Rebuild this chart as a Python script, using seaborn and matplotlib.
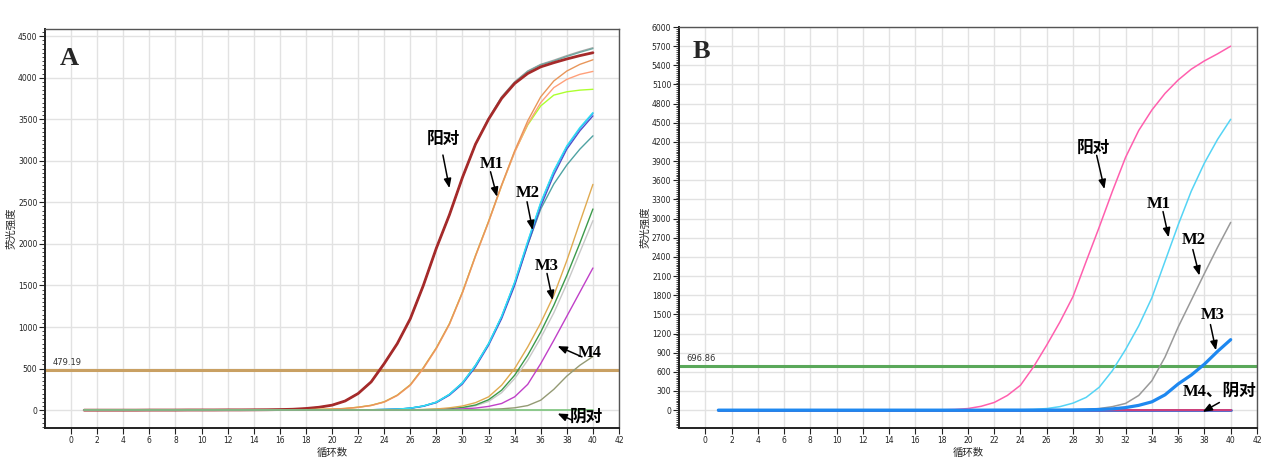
import numpy as np
import pandas as pd
import matplotlib
matplotlib.use("Agg")
import matplotlib.pyplot as plt
import seaborn as sns
from matplotlib.ticker import MultipleLocator

sns.set_style("white")
plt.rcParams["font.family"] = ["DejaVu Sans", "Noto Sans CJK SC"]

cycles = list(range(1, 41))

# ---------------- panel A (fluorescence per cycle) ----------------
a_pos_red = [0, 0, 0, 0, 0, 1, 1, 1, 2, 2, 2, 3, 3, 4, 5, 7, 11, 20, 35, 60,
             110, 200, 340, 560, 800, 1100, 1500, 1950, 2350, 2800,
             3200, 3500, 3750, 3930, 4050, 4130, 4180, 4225, 4265, 4300]
a_pos_gray = [0, 0, 0, 0, 0, 1, 1, 1, 2, 2, 2, 3, 3, 4, 5, 7, 11, 20, 35, 60,
              110, 200, 340, 560, 800, 1100, 1500, 1950, 2350, 2800,
              3200, 3510, 3770, 3950, 4080, 4160, 4210, 4265, 4315, 4360]
a_pos_teal = [0, 0, 0, 0, 0, 1, 1, 1, 2, 2, 2, 3, 3, 4, 5, 7, 11, 20, 35, 60,
              110, 200, 340, 560, 800, 1100, 1500, 1950, 2350, 2800,
              3200, 3505, 3765, 3945, 4075, 4155, 4200, 4255, 4305, 4350]
a_m1_orange = [0, 0, 0, 0, 0, 0, 0, 0, 0, 0, 1, 1, 1, 1, 2, 2, 3, 5, 8, 12,
               20, 35, 58, 100, 180, 305, 510, 750, 1040, 1420,
               1860, 2270, 2710, 3120, 3480, 3770, 3960, 4080, 4160, 4215]
a_m1_salmon = [0, 0, 0, 0, 0, 0, 0, 0, 0, 0, 1, 1, 1, 1, 2, 2, 3, 5, 8, 12,
               19, 33, 55, 96, 175, 298, 500, 740, 1030, 1410,
               1850, 2260, 2700, 3100, 3440, 3700, 3880, 3980, 4040, 4075]
a_m1_green = [0, 0, 0, 0, 0, 0, 0, 0, 0, 0, 1, 1, 1, 1, 2, 2, 3, 5, 8, 12,
              20, 35, 58, 100, 180, 305, 510, 750, 1040, 1420,
              1860, 2270, 2700, 3110, 3430, 3660, 3790, 3830, 3850, 3860]
a_m2_cyan = [0, 0, 0, 0, 0, 0, 0, 0, 0, 0, 0, 0, 0, 0, 1, 1, 1, 1, 2, 2,
             2, 3, 5, 8, 12, 24, 50, 96, 190, 330,
             540, 800, 1130, 1540, 2030, 2500, 2880, 3180, 3400, 3580]
a_m2_blue = [0, 0, 0, 0, 0, 0, 0, 0, 0, 0, 0, 0, 0, 0, 1, 1, 1, 1, 2, 2,
             2, 3, 5, 8, 12, 24, 50, 96, 188, 328,
             535, 795, 1125, 1535, 2020, 2490, 2870, 3170, 3390, 3570]
a_m2_slate = [0, 0, 0, 0, 0, 0, 0, 0, 0, 0, 0, 0, 0, 0, 1, 1, 1, 1, 2, 2,
              2, 3, 5, 7, 11, 22, 46, 90, 180, 315,
              520, 780, 1100, 1500, 1990, 2450, 2830, 3140, 3360, 3540]
a_m2_teal = [0, 0, 0, 0, 0, 0, 0, 0, 0, 0, 0, 0, 0, 0, 1, 1, 1, 1, 2, 2,
             2, 3, 5, 8, 12, 24, 50, 96, 190, 330,
             540, 800, 1120, 1520, 1990, 2420, 2720, 2950, 3140, 3300]
a_m3_tan = [0, 0, 0, 0, 0, 0, 0, 0, 0, 0, 0, 0, 0, 0, 0, 0, 0, 1, 1, 1,
            1, 2, 2, 2, 3, 5, 8, 14, 28, 50,
            90, 160, 300, 500, 760, 1050, 1380, 1800, 2260, 2716]
a_m3_green = [0, 0, 0, 0, 0, 0, 0, 0, 0, 0, 0, 0, 0, 0, 0, 0, 0, 1, 1, 1,
              1, 1, 2, 2, 3, 4, 6, 10, 18, 32,
              62, 125, 240, 420, 660, 940, 1260, 1620, 2010, 2420]
a_m3_gray = [0, 0, 0, 0, 0, 0, 0, 0, 0, 0, 0, 0, 0, 0, 0, 0, 0, 1, 1, 1,
             1, 1, 1, 2, 2, 3, 5, 8, 14, 26,
             52, 105, 210, 380, 600, 870, 1170, 1520, 1900, 2280]
a_m4_magenta = [0, 0, 0, 0, 0, 0, 0, 0, 0, 0, 0, 0, 0, 0, 0, 0, 0, 0, 0, 1,
                1, 1, 1, 2, 2, 3, 4, 5, 8, 15,
                25, 45, 80, 160, 310, 560, 840, 1130, 1420, 1710]
a_m4_olive = [0, 0, 0, 0, 0, 0, 0, 0, 0, 0, 0, 0, 0, 0, 0, 0, 0, 0, 0, 0,
              0, 1, 1, 1, 1, 1, 2, 2, 3, 4,
              6, 10, 16, 28, 55, 120, 250, 410, 540, 645]
a_neg = [0] * 40

a_series = [
    ("阳对-1", a_pos_gray, "#a8a8a8", 1.0),
    ("阳对-2", a_pos_teal, "#6fa8a0", 1.0),
    ("阳对-3", a_pos_red, "#a52a2a", 2.0),
    ("M1-1", a_m1_green, "#adff2f", 1.0),
    ("M1-2", a_m1_salmon, "#ffa07a", 1.0),
    ("M1-3", a_m1_orange, "#e8965a", 1.0),
    ("M2-1", a_m2_teal, "#4fa3a3", 1.0),
    ("M2-2", a_m2_slate, "#5050c8", 1.0),
    ("M2-3", a_m2_blue, "#1e90ff", 1.0),
    ("M2-4", a_m2_cyan, "#33e0f0", 1.0),
    ("M3-1", a_m3_gray, "#c8c8c8", 1.0),
    ("M3-2", a_m3_green, "#3c9a4a", 1.0),
    ("M3-3", a_m3_tan, "#e0aa50", 1.0),
    ("M4-1", a_m4_olive, "#949a74", 1.0),
    ("M4-2", a_m4_magenta, "#c040c8", 1.0),
    ("阴对", a_neg, "#7cc47c", 1.2),
]
a_threshold = 479.19

# ---------------- panel B ----------------
b_pos = [0, 0, 0, 0, 0, 0, 0, 0, 0, 0, 0, 1, 1, 1, 1, 2, 3, 5, 10, 25,
         60, 120, 230, 390, 680, 1020, 1380, 1780, 2330, 2870,
         3430, 3960, 4380, 4700, 4960, 5170, 5340, 5470, 5580, 5700]
b_m1 = [0, 0, 0, 0, 0, 0, 0, 0, 0, 0, 0, 0, 0, 0, 0, 0, 1, 1, 1, 1,
        2, 2, 3, 5, 12, 25, 55, 110, 200, 360,
        620, 950, 1320, 1760, 2330, 2900, 3430, 3870, 4240, 4555]
b_m2 = [0, 0, 0, 0, 0, 0, 0, 0, 0, 0, 0, 0, 0, 0, 0, 0, 0, 0, 0, 1,
        1, 1, 1, 2, 2, 2, 3, 6, 10, 25,
        55, 105, 230, 460, 830, 1300, 1720, 2140, 2550, 2940]
b_m3 = [0, 0, 0, 0, 0, 0, 0, 0, 0, 0, 0, 0, 0, 0, 0, 0, 0, 0, 0, 0,
        0, 1, 1, 1, 1, 2, 2, 3, 6, 10,
        20, 40, 75, 130, 240, 410, 550, 720, 920, 1104]
b_neg = [0] * 40

b_series = [
    ("M4", b_neg, "#4b5cc4", 2.0),
    ("阴对", b_neg, "#d0407a", 1.4),
    ("阳对", b_pos, "#ff5fae", 1.1),
    ("M1", b_m1, "#55d4f5", 1.1),
    ("M2", b_m2, "#999999", 1.1),
    ("M3", b_m3, "#1e88f0", 2.3),
]
b_threshold = 696.86

# label text, text position, arrow start, arrow tip
a_notes = [
    ("阳对", (28.57, 3249), (28.5, 3069), (29.0, 2671)),
    ("M1", (32.21, 2960), (32.15, 2868), (32.65, 2567)),
    ("M2", (34.97, 2617), (34.95, 2507), (35.38, 2166)),
    ("M3", (36.46, 1733), (36.48, 1645), (36.91, 1324)),
    ("M4", (39.72, 692), (39.16, 641), (37.29, 770)),
    ("阴对", (39.49, -90), (38.40, -120), (37.29, -40)),
]
b_notes = [
    ("阳对", (29.55, 4087), (29.80, 3990), (30.39, 3462)),
    ("M1", (34.51, 3228), (34.85, 3110), (35.28, 2706)),
    ("M2", (37.16, 2667), (37.12, 2515), (37.62, 2108)),
    ("M3", (38.63, 1483), (38.46, 1340), (38.88, 937)),
    ("M4、阴对", (39.16, 290), (39.14, 120), (37.87, -27)),
]

note_font = ["Liberation Serif", "Noto Sans CJK SC"]


def draw_panel(ax, series, threshold, thr_color, thr_text_y, ylim, ystep, yminor,
               notes, letter, letter_xy):
    for name, vals, color, lw in series:
        df = pd.DataFrame({"cycle": cycles, "value": vals})
        sns.lineplot(data=df, x="cycle", y="value", ax=ax, color=color, lw=lw)
    ax.axhline(threshold, color=thr_color, lw=2.2, zorder=1)
    ax.text(-1.45, thr_text_y, f"{threshold:.2f}", fontsize=6, color="#333333",
            ha="left", va="bottom")

    ax.set_xlim(-2, 42)
    ax.set_ylim(*ylim)
    ax.set_xticks(range(0, 43, 2))
    ax.set_yticks(np.arange(0, ylim[1] + 1, ystep))
    ax.yaxis.set_minor_locator(MultipleLocator(yminor))
    ax.tick_params(axis="both", which="major", direction="out", length=4, width=0.8,
                   labelsize=5.5, colors="#222222", pad=1.5)
    ax.tick_params(axis="y", which="minor", direction="out", length=2, width=0.6,
                   left=True)
    ax.tick_params(axis="x", which="major", bottom=True)
    ax.tick_params(axis="y", which="major", left=True)
    ax.grid(True, which="major", color="#e2e2e2", lw=1.0)
    ax.set_axisbelow(True)
    for side in ["left", "bottom"]:
        ax.spines[side].set_color("#222222")
        ax.spines[side].set_linewidth(1.4)
    for side in ["top", "right"]:
        ax.spines[side].set_color("#555555")
        ax.spines[side].set_linewidth(1.0)

    ax.set_xlabel("循环数", fontsize=7.5, labelpad=2)
    ax.set_ylabel("荧光强度", fontsize=7.5, labelpad=1)

    for label, txt_xy, start, tip in notes:
        ax.text(txt_xy[0], txt_xy[1], label, family=note_font, fontweight="bold",
                fontsize=12, ha="center", va="center", color="black")
        ax.annotate("", xy=tip, xytext=start,
                    arrowprops=dict(arrowstyle="-|>,head_length=0.55,head_width=0.22",
                                    color="black", lw=1.1, shrinkA=0, shrinkB=0))

    ax.text(letter_xy[0], letter_xy[1], letter, transform=ax.transAxes,
            family=["Liberation Serif"], fontweight="bold", fontsize=19,
            ha="center", va="center")


fig = plt.figure(figsize=(12.62, 4.66), dpi=100)
ax_a = fig.add_axes([0.0357, 0.0815, 0.4548, 0.8562])
ax_b = fig.add_axes([0.538, 0.0815, 0.458, 0.8605])

draw_panel(ax_a, a_series, a_threshold, "#c9a063", 520, (-215, 4585), 500, 50,
           a_notes, "A", (0.0427, 0.925))
draw_panel(ax_b, b_series, b_threshold, "#5aa85a", 742, (-280, 6000), 300, 30,
           b_notes, "B", (0.039, 0.94))

fig.savefig("out.png", dpi=100)
